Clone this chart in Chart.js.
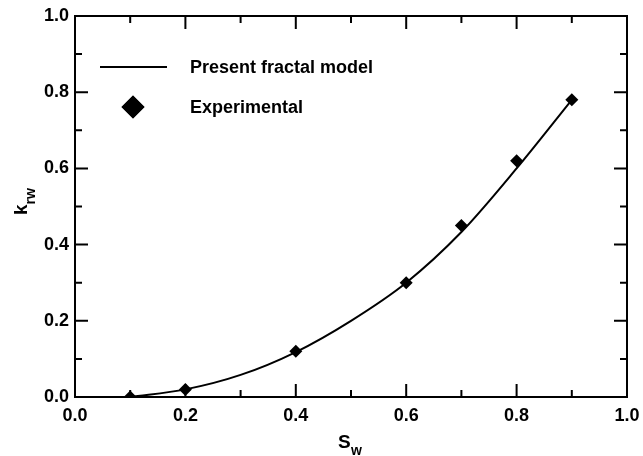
<!DOCTYPE html>
<html>
<head>
<meta charset="utf-8">
<script src="https://cdn.jsdelivr.net/npm/chart.js@4/dist/chart.umd.min.js"></script>
<style>
  html, body { margin: 0; padding: 0; background: #fff; }
  #wrap { width: 643px; height: 456px; }
</style>
</head>
<body>
<div id="wrap"><canvas id="c" width="643" height="456"></canvas></div>
<script>
// ---- data ----
const modelSw  = [0.1, 0.2, 0.3, 0.4, 0.5, 0.6, 0.7, 0.8, 0.9];
const modelKrw = [0.0, 0.02, 0.058, 0.118, 0.20, 0.30, 0.433, 0.60, 0.78];
const expSw    = [0.1, 0.2, 0.4, 0.6, 0.7, 0.8, 0.9];
const expKrw   = [0.0, 0.02, 0.12, 0.30, 0.45, 0.62, 0.78];
const tickValues = [0.0, 0.2, 0.4, 0.6, 0.8, 1.0];
const minorValues = [0.1, 0.3, 0.5, 0.7, 0.9];
const legendLabels = ['Present fractal model', 'Experimental'];

const FONT = '"Liberation Sans", Arial, sans-serif';

const toXY = (xs, ys) => xs.map((x, i) => ({ x: x, y: ys[i] }));

const framePlugin = {
  id: 'frame',
  afterDatasetsDraw(chart) {
    const { ctx, chartArea: a, scales } = chart;
    const xs = scales.x, ys = scales.y;
    ctx.save();
    ctx.strokeStyle = '#000';
    ctx.lineWidth = 2;
    ctx.strokeRect(a.left, a.top, a.right - a.left, a.bottom - a.top);
    const major = 13, minor = 7;
    ctx.beginPath();
    const all = tickValues.map(v => [v, major]).concat(minorValues.map(v => [v, minor]));
    all.forEach(([v, len]) => {
      const px = xs.getPixelForValue(v);
      ctx.moveTo(px, a.bottom); ctx.lineTo(px, a.bottom - len);
      ctx.moveTo(px, a.top); ctx.lineTo(px, a.top + len);
      const py = ys.getPixelForValue(v);
      ctx.moveTo(a.left, py); ctx.lineTo(a.left + len, py);
      ctx.moveTo(a.right, py); ctx.lineTo(a.right - len, py);
    });
    ctx.stroke();

    // legend
    ctx.fillStyle = '#000';
    ctx.font = 'bold 18px ' + FONT;
    ctx.textBaseline = 'middle';
    ctx.textAlign = 'left';
    ctx.beginPath();
    ctx.lineWidth = 2;
    ctx.moveTo(100, 67); ctx.lineTo(167, 67);
    ctx.stroke();
    ctx.fillText(legendLabels[0], 190, 68);
    Chart.helpers.drawPoint(ctx, { pointStyle: 'rectRot', radius: 11.5, borderWidth: 0 }, 133, 107);
    ctx.fill();
    ctx.fillText(legendLabels[1], 190, 108);

    // x axis title S_w
    ctx.textBaseline = 'alphabetic';
    ctx.font = 'bold 19px ' + FONT;
    ctx.fillText('S', 338, 448);
    ctx.font = 'bold 14px ' + FONT;
    ctx.fillText('w', 351, 455);

    // y axis title k_rw
    ctx.save();
    ctx.translate(27, 215);
    ctx.rotate(-Math.PI / 2);
    ctx.font = 'bold 19px ' + FONT;
    ctx.fillText('k', 0, 0);
    const kw = ctx.measureText('k').width;
    ctx.font = 'bold 14px ' + FONT;
    ctx.fillText('rw', kw, 8);
    ctx.restore();
    ctx.restore();
  }
};

new Chart(document.getElementById('c'), {
  type: 'scatter',
  data: {
    datasets: [
      {
        label: legendLabels[0],
        type: 'line',
        data: toXY(modelSw, modelKrw),
        borderColor: '#000',
        borderWidth: 2,
        pointRadius: 0,
        fill: false,
        cubicInterpolationMode: 'monotone'
      },
      {
        label: legendLabels[1],
        data: toXY(expSw, expKrw),
        pointStyle: 'rectRot',
        pointRadius: 6.5,
        pointHoverRadius: 6.5,
        backgroundColor: '#000',
        borderColor: '#000',
        borderWidth: 0
      }
    ]
  },
  options: {
    responsive: false,
    animation: false,
    devicePixelRatio: 1,
    layout: { padding: { left: 0, right: 16, top: 16, bottom: 0 } },
    plugins: { legend: { display: false }, tooltip: { enabled: false } },
    scales: {
      x: {
        type: 'linear', min: 0, max: 1,
        afterFit(s) { s.height = 59; s.paddingLeft = 0; s.paddingRight = 0; },
        afterBuildTicks(s) { s.ticks = tickValues.map(v => ({ value: v })); },
        grid: { display: false, drawTicks: false },
        border: { display: false },
        ticks: {
          autoSkip: false, maxRotation: 0, padding: 8, color: '#000',
          font: { family: FONT, size: 18, weight: 'bold' },
          callback: v => Number(v).toFixed(1)
        }
      },
      y: {
        type: 'linear', min: 0, max: 1,
        afterFit(s) { s.width = 75; s.paddingTop = 0; s.paddingBottom = 0; },
        afterBuildTicks(s) { s.ticks = tickValues.map(v => ({ value: v })); },
        grid: { display: false, drawTicks: false },
        border: { display: false },
        ticks: {
          autoSkip: false, padding: 6, color: '#000',
          font: { family: FONT, size: 18, weight: 'bold' },
          callback: v => Number(v).toFixed(1)
        }
      }
    }
  },
  plugins: [framePlugin]
});
</script>
</body>
</html>
